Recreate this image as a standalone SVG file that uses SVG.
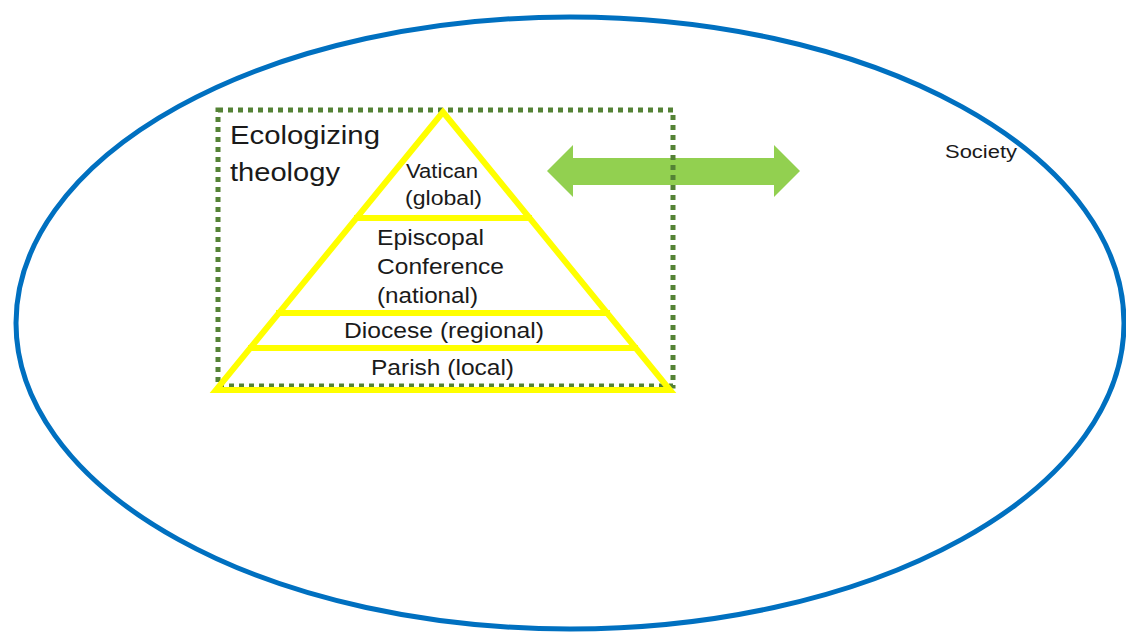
<svg xmlns="http://www.w3.org/2000/svg" width="1126" height="634" viewBox="0 0 1126 634">
<style>
text{font-family:"Liberation Sans",Arial,sans-serif;fill:#1a1a1a}
.tier{stroke:#FFFF00;stroke-width:6;fill:none}
</style>
<rect width="1126" height="634" fill="#fff"/>
<g id="society">
<ellipse cx="570" cy="323" rx="554" ry="306" fill="none" stroke="#0070C0" stroke-width="5"/>
<text x="945" y="158" font-size="18" textLength="72" lengthAdjust="spacingAndGlyphs">Society</text>
</g>
<g id="connectors">
<polygon points="547,171 573,145 573,158 774,158 774,145 800,171 774,197 774,185 573,185 573,197" fill="#92D050"/>
</g>
<g id="ecologizing">
<rect x="218" y="110" width="455" height="276" fill="none" stroke="#548235" stroke-width="5" stroke-dasharray="5,5"/>
<text x="230" y="144" font-size="25" textLength="150" lengthAdjust="spacingAndGlyphs">Ecologizing</text>
<text x="230" y="181" font-size="25" textLength="110" lengthAdjust="spacingAndGlyphs">theology</text>
</g>
<g id="pyramid">
<polygon class="tier" points="443,112 216,390 670,390"/>
<line class="tier" x1="354" y1="218" x2="532" y2="218"/>
<line class="tier" x1="276" y1="313" x2="610" y2="313"/>
<line class="tier" x1="248" y1="348" x2="638" y2="348"/>
</g>
<g id="vatican"><text x="406" y="178" font-size="20" textLength="72" lengthAdjust="spacingAndGlyphs">Vatican</text><text x="405" y="205" font-size="20" textLength="77" lengthAdjust="spacingAndGlyphs">(global)</text></g>
<g id="episcopal"><text x="377" y="245" font-size="22" textLength="107" lengthAdjust="spacingAndGlyphs">Episcopal</text><text x="377" y="274" font-size="22" textLength="127" lengthAdjust="spacingAndGlyphs">Conference</text><text x="377" y="303" font-size="22" textLength="101" lengthAdjust="spacingAndGlyphs">(national)</text></g>
<g id="diocese"><text x="344" y="338" font-size="22" textLength="200" lengthAdjust="spacingAndGlyphs">Diocese (regional)</text></g>
<g id="parish"><text x="371" y="375" font-size="22" textLength="143" lengthAdjust="spacingAndGlyphs">Parish (local)</text></g>
</svg>
